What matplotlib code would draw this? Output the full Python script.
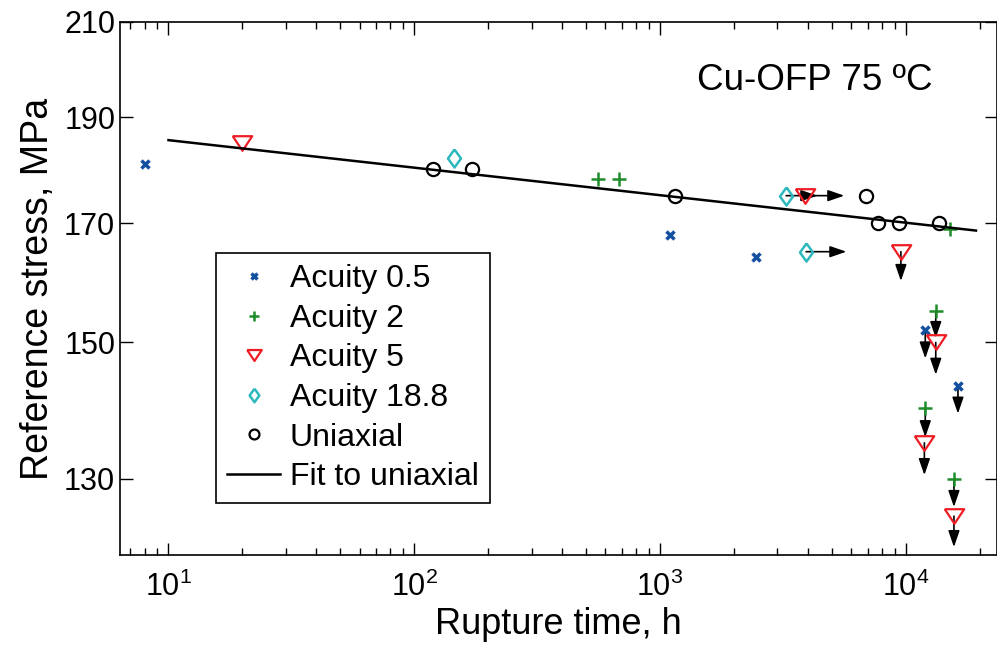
import matplotlib
matplotlib.use("Agg")
import matplotlib.pyplot as plt
from matplotlib.ticker import FixedLocator, LogLocator, NullLocator, NullFormatter

plt.rcParams['font.family'] = ['Liberation Sans', 'DejaVu Sans']
plt.rcParams['mathtext.fontset'] = 'custom'
plt.rcParams['mathtext.rm'] = 'Liberation Sans'
plt.rcParams['mathtext.it'] = 'Liberation Sans'

# data (rupture time in h, stress in MPa)
a05_t = [8, 1100, 2450, 12000, 16300]
a05_s = [181, 168, 164, 152, 143.3]
a2_t = [560, 680, 15200, 13240, 12000, 15700]
a2_s = [178, 178, 169, 155, 140, 130]
a5_t = [20, 3890, 9550, 13240, 11900, 15700]
a5_s = [185, 175, 165, 150, 135, 125]
a188_t = [145, 3260, 3930]
a188_s = [182, 175, 165]
uni_t = [119, 172, 1146, 6890, 7730, 9400, 13680]
uni_s = [180, 180, 175, 175, 170, 170, 170]
fit_t = [10, 19300]
fit_s = [185.5, 168.7]

# run-outs (arrows): start point -> end point
hor_t0 = [3260, 3890, 3930]
hor_s0 = [175, 175, 165]
hor_t1 = [4365, 5620, 5730]
ver_t = [12000, 13240, 13240, 16300, 12000, 11900, 15700, 15700, 9550]
ver_s0 = [152, 155, 150, 143.3, 140, 135, 130, 125, 165]
ver_s1 = [147.5, 150.7, 145.0, 139.2, 135.8, 130.5, 126.2, 121.0, 160.0]

# MATLAB-like wide triangle and diamond
tri = [(-1, 0.75), (1, 0.75), (0, -0.75), (-1, 0.75)]
dia = [(0, 1), (0.72, 0), (0, -1), (-0.72, 0), (0, 1)]

fig = plt.figure(figsize=(9.97, 6.48), dpi=100)
ax = fig.add_axes([120 / 997, 93 / 648, 877 / 997, 533 / 648])
ax.set_xscale('log')
ax.set_yscale('log')

arrow_kw = dict(arrowstyle='-|>,head_length=0.55,head_width=0.19', color='k',
                lw=1.2, mutation_scale=18, shrinkA=0, shrinkB=0)
for t0, s0, t1 in zip(hor_t0, hor_s0, hor_t1):
    ax.annotate('', xy=(t1, s0), xytext=(t0, s0), arrowprops=arrow_kw, zorder=1)
for t, s0, s1 in zip(ver_t, ver_s0, ver_s1):
    ax.annotate('', xy=(t, s1), xytext=(t, s0), arrowprops=arrow_kw, zorder=1)

ax.plot(a05_t, a05_s, 'x', color='#1450a0', ms=6, mew=2.5, label='Acuity 0.5', ls='none')
ax.plot(a2_t, a2_s, '+', color='#1e8c28', ms=10.5, mew=1.8, label='Acuity 2', ls='none')
ax.plot(a5_t, a5_s, marker=tri, mfc='none', mec='#ee1c24', ms=14, mew=1.6, label='Acuity 5', ls='none')
ax.plot(a188_t, a188_s, marker=dia, mfc='none', mec='#2cb8bc', ms=13, mew=1.8, label='Acuity 18.8', ls='none')
ax.plot(uni_t, uni_s, 'o', mfc='none', mec='k', ms=9.5, mew=1.6, label='Uniaxial', ls='none')
ax.plot(fit_t, fit_s, '-', color='k', lw=1.8, label='Fit to uniaxial')

ax.set_xlim(6.35, 23500)
ax.set_ylim(120, 210)
ax.yaxis.set_major_locator(FixedLocator([130, 150, 170, 190, 210]))
ax.yaxis.set_minor_locator(NullLocator())
ax.yaxis.set_major_formatter(plt.FuncFormatter(lambda v, p: f'{v:.0f}'))
ax.yaxis.set_minor_formatter(NullFormatter())
ax.xaxis.set_major_locator(LogLocator(base=10, numticks=10))
ax.xaxis.set_minor_locator(LogLocator(base=10, subs=range(2, 10), numticks=20))

ax.tick_params(which='both', direction='in', top=True, right=True, labelsize=22, width=1)
ax.tick_params(which='major', length=9)
ax.tick_params(which='minor', length=5)
ax.tick_params(axis='x', pad=12)
for sp in ax.spines.values():
    sp.set_linewidth(1.2)

ax.set_xlabel('Rupture time, h', fontsize=26, labelpad=3)
ax.set_ylabel('Reference stress, MPa', fontsize=27, labelpad=6)

ax.text(0.658, 0.89, 'Cu-OFP 75 ºC', transform=ax.transAxes, fontsize=26.5,
        ha='left', va='center')

leg = ax.legend(loc='upper left', bbox_to_anchor=(0.1095, 0.5666), fontsize=23,
                frameon=True, fancybox=False, edgecolor='k', framealpha=1,
                labelspacing=0.3, handlelength=1.65, handletextpad=0.3,
                borderpad=0.35, borderaxespad=0, markerscale=0.75)
leg.get_frame().set_linewidth(1.2)

fig.savefig('out.png', dpi=100)
